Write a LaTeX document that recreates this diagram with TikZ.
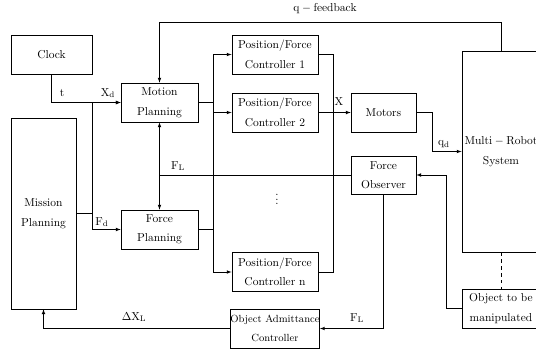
\documentclass[tikz,border=0pt]{standalone}
\usepackage{amsmath, amssymb}
\usepackage{tikz}
\usetikzlibrary{arrows}

\tikzset{
    blk/.style={draw, line width=.6pt, inner sep=0pt, align=center,
            minimum width=67pt, minimum height=34pt},
    wire/.style={line width=.45pt},
    lbl/.style={inner sep=0pt}
}

\begin{document}
\begin{tikzpicture}[x=.87pt, y=-.87pt, >=latex]
        \useasboundingbox (0, 0) rectangle (536, 351);
        \clip (0, 0) rectangle (536, 351);
        % blocks
        \node[blk, minimum width=70.5pt] (clock) at (51.5, 54.5) {Clock};
        \node[blk, minimum width=56.5pt, minimum height=166pt] (mission) at (43.5, 213.5) {Mission\\[5pt]Planning};
        \node[blk] (motion) at (159.5, 102.5) {Motion\\[5pt]Planning};
        \node[blk] (force) at (159.5, 229.5) {Force\\[5pt]Planning};
        \node[blk, minimum width=75pt] (pf1) at (275, 54.5) {Position/Force\\[5pt]Controller~1};
        \node[blk, minimum width=75pt] (pf2) at (275, 112.5) {Position/Force\\[5pt]Controller~2};
        \node[blk, minimum width=75pt] (pfn) at (275, 272) {Position/Force\\[5pt]Controller~n};
        \node[blk, minimum width=75pt, font=\small] (oac) at (275, 328.5) {Object Admittance\\[5pt]Controller};
        \node[blk, minimum width=56.5pt] (motors) at (383.5, 112.5) {Motors};
        \node[blk, minimum width=56.5pt, minimum height=33pt] (observer) at (383.5, 175) {Force\\[5pt]Observer};
        \node[blk, minimum width=68pt, minimum height=175pt] (robots) at (501, 151.5) {$\mathrm{Multi-Robot}$\\[5pt]System};
        \node[blk, minimum width=68pt] (object) at (501, 308.5) {Object to be\\[5pt]manipulated};
        \node (dots) at (277, 196) {$\vdots$};
        % junctions
        \coordinate (jmis) at (92, 213.5);
        \coordinate (jbus) at (213, 102.5);
        \coordinate (jout) at (333, 112.5);
        \coordinate (jfl) at (159.5, 175);
        \coordinate (jfb) at (159.5, 22);
        % connectors
        \draw[wire, ->] (clock.south) |- (motion.west);
        \draw[wire] (mission.east) -- (jmis);
        \draw[wire, ->] (jmis) |- (motion.west);
        \draw[wire, ->] (jmis) |- (force.west);
        \draw[wire] (motion.east) -- (jbus);
        \draw[wire] (force.east) -- (force.east -| jbus);
        \draw[wire, ->] (jbus) |- (pf1.west);
        \draw[wire, ->] (jbus) |- (pf2.west);
        \draw[wire, ->] (jbus) |- (pfn.west);
        \draw[wire] (pf1.east) -| (jout);
        \draw[wire] (pfn.east) -| (jout);
        \draw[wire, ->] (pf2.east) -- (motors.west);
        \draw[wire, ->] (motors.east) -- ++(16, 0) |- (robots.west);
        \draw[wire, ->] (robots.north) |- (jfb) -- (motion.north);
        \draw[wire, dashed] (robots.south) -- (object.north);
        \draw[wire, ->] (object.west) -- ++(-15, 0) |- (observer.east);
        \draw[wire] (observer.west) -- (jfl);
        \draw[wire, ->] (jfl) -- (motion.south);
        \draw[wire, ->] (jfl) -- (force.north);
        \draw[wire, ->] (observer.south) |- (oac.east);
        \draw[wire, ->] (oac.west) -| (mission.south);
        % labels
        \node[lbl] (lt) at (62, 93) {t};
        \node[lbl] (lxd) at (108, 93) {$\mathrm{X_d}$};
        \node[lbl] (lfd) at (102, 222) {$\mathrm{F_d}$};
        \node[lbl] (lfl) at (178, 166) {$\mathrm{F_L}$};
        \node[lbl] (lx) at (339, 102) {$\mathrm{X}$};
        \node[lbl] (lqd) at (444, 144) {$\mathrm{q_d}$};
        \node[lbl] (lfb) at (325, 9) {$\mathrm{q-feedback}$};
        \node[lbl] (lflo) at (357, 318) {$\mathrm{F_L}$};
        \node[lbl] (ldx) at (134, 317) {$\mathrm{\Delta X_L}$};
    \end{tikzpicture}
\end{document}
